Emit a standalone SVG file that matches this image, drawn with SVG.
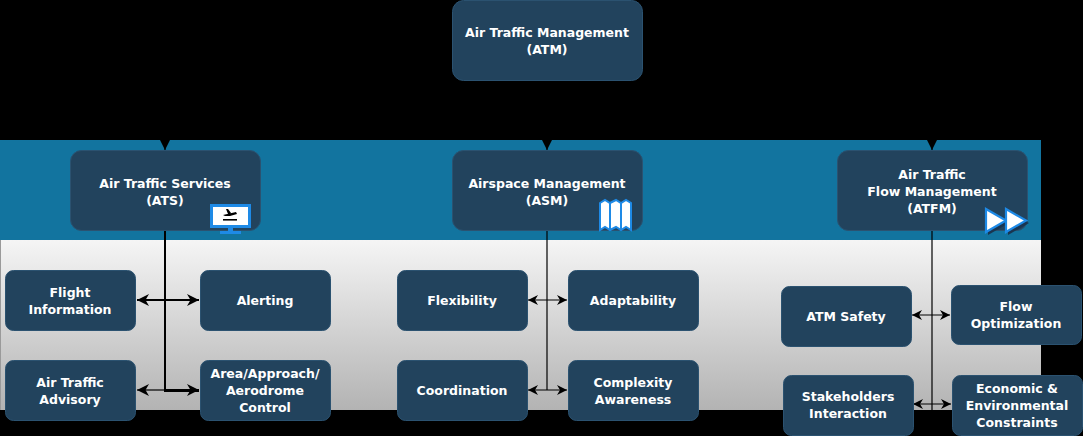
<svg xmlns="http://www.w3.org/2000/svg" width="1083" height="436" viewBox="0 0 1083 436">
<defs>
<linearGradient id="gray" x1="0" y1="0" x2="0" y2="1">
<stop offset="0" stop-color="#f5f5f5"/>
<stop offset="1" stop-color="#b3b3b3"/>
</linearGradient>
<marker id="ah" viewBox="0 0 10 10" refX="10" refY="5" markerWidth="10" markerHeight="10" markerUnits="userSpaceOnUse" orient="auto-start-reverse">
<path d="M0,0 L10,5 L0,10 L3,5 Z" fill="#000"/>
</marker>
<marker id="ahb" viewBox="0 0 12 12" refX="12" refY="6" markerWidth="12" markerHeight="12" markerUnits="userSpaceOnUse" orient="auto-start-reverse">
<path d="M0,0 L12,6 L0,12 L3.5,6 Z" fill="#000"/>
</marker>
<marker id="tip" viewBox="0 0 10 10" refX="10" refY="5" markerWidth="10" markerHeight="10" markerUnits="userSpaceOnUse" orient="auto">
<path d="M0,0 L10,5 L0,10 Z" fill="#000"/>
</marker>
</defs>
<style>
.node rect { fill: #22435d; stroke: #2b5270; stroke-width: 1; }
.node text { fill: #ffffff; font-family: "DejaVu Sans", Verdana, sans-serif; font-weight: bold; font-size: 12.5px; text-anchor: middle; }
.c { stroke: #000; fill: none; stroke-width: 1.2; }
.cb { stroke: #000; fill: none; stroke-width: 2; }
</style>
<rect x="0" y="0" width="1083" height="436" fill="#000"/>
<rect x="0" y="140" width="1041" height="100" fill="#12749f"/>
<rect x="0" y="240" width="1041" height="170" fill="url(#gray)"/>
<line x1="0.5" y1="240" x2="0.5" y2="410" stroke="#9a9a9a" stroke-width="1"/>

<g id="connectors">
<path class="c" d="M547,80 V125 M165,125 H932"/>
<path class="c" d="M165,125 V150" marker-end="url(#tip)"/>
<path class="c" d="M547,125 V150" marker-end="url(#tip)"/>
<path class="c" d="M932,125 V150" marker-end="url(#tip)"/>
<path class="cb" d="M165,230 V391 H199"/>
<path class="cb" d="M137,300 H199" marker-start="url(#ahb)" marker-end="url(#ahb)"/>
<path class="c" d="M137,390 H164" marker-start="url(#ahb)"/>
<path class="cb" d="M165,390 H199" marker-end="url(#ahb)"/>
<path class="c" d="M547,230 V390"/>
<path class="c" d="M528,300 H567" marker-start="url(#ah)" marker-end="url(#ah)"/>
<path class="c" d="M528,390 H567" marker-start="url(#ah)" marker-end="url(#ah)"/>
<path class="c" d="M932,230 V410"/>
<path class="c" d="M912,315 H950" marker-start="url(#ah)" marker-end="url(#ah)"/>
<path class="c" d="M913,404 H951" marker-start="url(#ah)" marker-end="url(#ah)"/>
</g>

<g id="atm" class="node">
<rect x="452.5" y="0.5" width="190" height="80" rx="11"/>
<text x="547" y="37">Air Traffic Management</text>
<text x="547" y="54">(ATM)</text>
</g>

<g id="ats" class="node">
<rect x="70.5" y="150.5" width="190" height="80" rx="11"/>
<text x="165" y="188">Air Traffic Services</text>
<text x="165" y="205">(ATS)</text>
</g>
<g id="ats-icon">
<rect x="210" y="204" width="41" height="24" fill="#1e8ae6"/>
<rect x="213" y="207" width="35" height="18" fill="#fff"/>
<rect x="228" y="228" width="5" height="4" fill="#1e8ae6"/>
<rect x="220" y="231" width="21" height="3" fill="#1e8ae6"/>
<path d="M223,215 L236,212 L237,214 L230,216 L225,216 Z M226,209 L228,209 L231,213 L228,214 Z" fill="#000"/>
<rect x="223" y="219" width="14" height="1.6" fill="#000"/>
</g>

<g id="asm" class="node">
<rect x="452.5" y="150.5" width="190" height="80" rx="11"/>
<text x="547" y="188">Airspace Management</text>
<text x="547" y="205">(ASM)</text>
</g>
<g id="asm-icon">
<path d="M600,203 L605,200 L610,203 L616,200 L621,203 L626,200 L631,203 L631,230 L626,227 L621,230 L616,227 L610,230 L605,227 L600,230 Z" fill="#fff" stroke="#1e8ae6" stroke-width="2" stroke-linejoin="miter"/>
<path d="M610,203 V230 M621,203 V230" stroke="#1e8ae6" stroke-width="2"/>
</g>

<g id="atfm" class="node">
<rect x="837.5" y="150.5" width="190" height="80" rx="11"/>
<text x="932" y="179">Air Traffic</text>
<text x="932" y="196">Flow Management</text>
<text x="932" y="213">(ATFM)</text>
</g>
<g id="atfm-icon">
<path d="M986,210 L1007,221 L986,233 Z" fill="#1a3550" transform="translate(2,2)"/>
<path d="M1006,210 L1027,221 L1006,233 Z" fill="#1a3550" transform="translate(2,2)"/>
<path d="M986,209 L1006,220.5 L986,232 Z" fill="#fff" stroke="#1e8ae6" stroke-width="2.2" stroke-linejoin="miter"/>
<path d="M1006,209 L1026,220.5 L1006,232 Z" fill="#fff" stroke="#1e8ae6" stroke-width="2.2" stroke-linejoin="miter"/>
</g>

<g id="flight-information" class="node">
<rect x="5.5" y="270.5" width="130" height="60" rx="8"/>
<text x="70" y="297">Flight</text>
<text x="70" y="314">Information</text>
</g>
<g id="alerting" class="node">
<rect x="200.5" y="270.5" width="130" height="60" rx="8"/>
<text x="265" y="305">Alerting</text>
</g>
<g id="air-traffic-advisory" class="node">
<rect x="5.5" y="360.5" width="130" height="60" rx="8"/>
<text x="70" y="387">Air Traffic</text>
<text x="70" y="404">Advisory</text>
</g>
<g id="area-control" class="node">
<rect x="200.5" y="360.5" width="130" height="60" rx="8"/>
<text x="265" y="378">Area/Approach/</text>
<text x="265" y="395">Aerodrome</text>
<text x="265" y="412">Control</text>
</g>

<g id="flexibility" class="node">
<rect x="397.5" y="270.5" width="130" height="60" rx="8"/>
<text x="462" y="305">Flexibility</text>
</g>
<g id="adaptability" class="node">
<rect x="568.5" y="270.5" width="130" height="60" rx="8"/>
<text x="633" y="305">Adaptability</text>
</g>
<g id="coordination" class="node">
<rect x="397.5" y="360.5" width="130" height="60" rx="8"/>
<text x="462" y="395">Coordination</text>
</g>
<g id="complexity-awareness" class="node">
<rect x="568.5" y="360.5" width="130" height="60" rx="8"/>
<text x="633" y="387">Complexity</text>
<text x="633" y="404">Awareness</text>
</g>

<g id="atm-safety" class="node">
<rect x="781.5" y="286.5" width="130" height="60" rx="8"/>
<text x="846" y="321">ATM Safety</text>
</g>
<g id="flow-optimization" class="node">
<rect x="951.5" y="285.5" width="130" height="59" rx="8"/>
<text x="1016" y="311">Flow</text>
<text x="1016" y="328">Optimization</text>
</g>
<g id="stakeholders-interaction" class="node">
<rect x="783.5" y="375.5" width="130" height="60" rx="8"/>
<text x="848" y="401">Stakeholders</text>
<text x="848" y="418">Interaction</text>
</g>
<g id="economic-constraints" class="node">
<rect x="952.5" y="375.5" width="130" height="60" rx="8"/>
<text x="1017" y="393">Economic &amp;</text>
<text x="1017" y="410">Environmental</text>
<text x="1017" y="427">Constraints</text>
</g>
</svg>
